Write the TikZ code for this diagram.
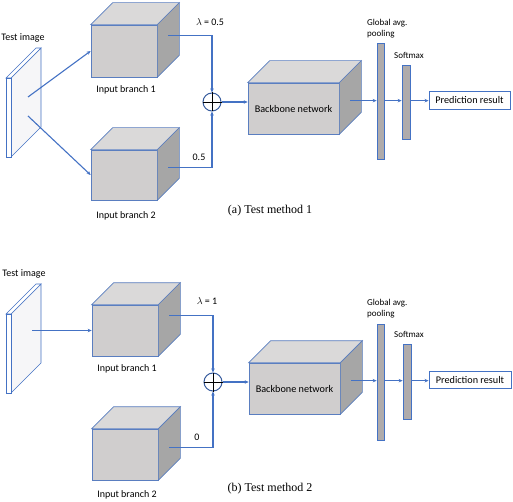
\documentclass[tikz,border=0pt]{standalone}
\usepackage{fontspec}
\setmainfont{Carlito}
\newfontfamily\capfont{Liberation Serif}
\usetikzlibrary{calc, arrows.meta, positioning}
\definecolor{lineblue}{HTML}{4472C4}
\definecolor{edgeblue}{HTML}{5A7EC0}
\definecolor{cubefront}{HTML}{D0CECE}
\definecolor{cubetop}{HTML}{DAD9D9}
\definecolor{cubeside}{HTML}{A6A6A6}
\definecolor{bargray}{HTML}{AFABAB}
\definecolor{platefill}{HTML}{F6F6F8}

\begin{document}
\begin{tikzpicture}[x=1pt,y=-1pt,
  conn/.style={-{Stealth[length=4pt,width=3.5pt]},draw=lineblue,line width=1.1pt},
  cubeedge/.style={draw=edgeblue,line width=0.7pt},
  cubefr/.style={draw=edgeblue,line width=0.7pt,fill=cubefront,inner sep=0pt,font=\fontsize{10.2}{12}\selectfont},
  plate/.style={draw=lineblue,line width=0.6pt},
  gapbar/.style={draw=lineblue,line width=0.8pt,fill=bargray,inner sep=0pt},
  lbl/.style={inner sep=0pt,font=\fontsize{10}{12}\selectfont},
  lblsmall/.style={inner sep=0pt,font=\fontsize{9}{11}\selectfont},
  sumnode/.style={circle,draw=lineblue!80!black,line width=1pt,fill=white,minimum size=18pt,inner sep=0pt},
  predbox/.style={draw=lineblue,line width=0.9pt,fill=white,inner sep=0pt,font=\fontsize{10.2}{12}\selectfont},
  capt/.style={inner sep=0pt,font=\capfont\fontsize{12}{14}\selectfont}]
  \useasboundingbox (0,0) rectangle (513,502);

  % test images
  \foreach \y in {78,314}{
    \draw[plate,fill=platefill] (11,\y) -- (41,{\y-30}) -- (41,{\y+49}) -- (11,{\y+79}) -- cycle;
    \draw[plate,fill=white] (6,\y) -- (36,{\y-30}) -- (41,{\y-30}) -- (11,\y) -- cycle;
    \draw[plate,fill=white] (6,\y) rectangle (11,{\y+79});
  }
  \node[lbl] (ta) at (23,38) {Test image};
  \node[lbl] (tb) at (24,274) {Test image};

  % cubes (front faces)
  \node[cubefr,minimum width=66pt,minimum height=52pt] (in1a) at (124,51) {};
  \node[cubefr,minimum width=66pt,minimum height=50pt] (in2a) at (124,175) {};
  \node[cubefr,minimum width=91pt,minimum height=51pt] (bba) at (293.5,108.5) {Backbone network};
  \node[cubefr,minimum width=66pt,minimum height=51pt] (in1b) at (125,330.5) {};
  \node[cubefr,minimum width=66pt,minimum height=51pt] (in2b) at (125,454.5) {};
  \node[cubefr,minimum width=91pt,minimum height=51pt] (bbb) at (294.5,388.5) {Backbone network};
  \foreach \c in {in1a,in2a,bba,in1b,in2b,bbb}{
    \draw[cubeedge,fill=cubetop] (\c.north west) -- ++(22,-22) -- ($(\c.north east)+(22,-22)$) -- (\c.north east) -- cycle;
    \draw[cubeedge,fill=cubeside] (\c.north east) -- ++(22,-22) -- ($(\c.south east)+(22,-22)$) -- (\c.south east) -- cycle;
  }
  \node[lbl] (l1a) at (126,90) {Input branch 1};
  \node[lbl] (l2a) at (126,216) {Input branch 2};
  \node[lbl] (l1b) at (127,369) {Input branch 1};
  \node[lbl] (l2b) at (127,495) {Input branch 2};

  % (a)
  \coordinate (pa1) at (28,97);
  \coordinate (pa2) at (28,116);
  \draw[conn] (pa1) -- (in1a.west);
  \draw[conn] (pa2) -- (in2a.west);
  \node[sumnode] (sa) at (212,102) {};
  \draw[black,line width=0.9pt] (sa.north) -- (sa.south) (sa.west) -- (sa.east);
  \coordinate (o1a) at ($(in1a.north east)+(11,11)$);
  \coordinate (o2a) at ($(in2a.north east)+(11,18)$);
  \draw[conn] (o1a) -| (sa.north);
  \draw[conn] (o2a) -| (sa.south);
  \node[lbl] (wa1) at (210,22) {$\lambda$ = 0.5};
  \node[lbl] (wa2) at (199,157) {0.5};
  \draw[conn] (sa.east) -- (sa.east -| bba.west);
  \node[gapbar,minimum width=7pt,minimum height=116pt] (gapa) at (380.5,101.5) {};
  \node[gapbar,minimum width=8pt,minimum height=74pt] (sma) at (406,102) {};
  \node[predbox,minimum width=81pt,minimum height=18pt] (pra) at (469.5,100) {Prediction result};
  \coordinate (oba) at ($(bba.north east)+(11,18)$);
  \draw[conn] (oba) -- (oba -| gapa.west);
  \draw[conn] (gapa.east |- oba) -- (sma.west |- oba);
  \draw[conn] (sma.east |- oba) -- (pra.west |- oba);
  \node[lblsmall,align=left,anchor=north west] (ga) at (367,19) {Global avg.\\pooling};
  \node[lblsmall] (sa1) at (409,55) {Softmax};
  \node[capt] (ca) at (270,211) {(a) Test method 1};

  % (b)
  \coordinate (pb1) at (32,330.5);
  \draw[conn] (pb1) -- (in1b.west);
  \node[sumnode] (sb) at (213,382) {};
  \draw[black,line width=0.9pt] (sb.north) -- (sb.south) (sb.west) -- (sb.east);
  \coordinate (o1b) at ($(in1b.north east)+(11,11)$);
  \coordinate (o2b) at ($(in2b.north east)+(11,19)$);
  \draw[conn] (o1b) -| (sb.north);
  \draw[conn] (o2b) -| (sb.south);
  \node[lbl] (wb1) at (207,301) {$\lambda$ = 1};
  \node[lbl] (wb2) at (197,437) {0};
  \draw[conn] (sb.east) -- (sb.east -| bbb.west);
  \node[gapbar,minimum width=7pt,minimum height=116pt] (gapb) at (380.5,382) {};
  \node[gapbar,minimum width=8pt,minimum height=75pt] (smb) at (407,381.5) {};
  \node[predbox,minimum width=82pt,minimum height=17pt] (prb) at (470,379.5) {Prediction result};
  \coordinate (obb) at ($(bbb.north east)+(11,18)$);
  \draw[conn] (obb) -- (obb -| gapb.west);
  \draw[conn] (gapb.east |- obb) -- (smb.west |- obb);
  \draw[conn] (smb.east |- obb) -- (prb.west |- obb);
  \node[lblsmall,align=left,anchor=north west] (gb) at (367,299) {Global avg.\\pooling};
  \node[lblsmall] (sb1) at (409,334) {Softmax};
  \node[capt] (cb) at (270,489) {(b) Test method 2};
\end{tikzpicture}
\end{document}
